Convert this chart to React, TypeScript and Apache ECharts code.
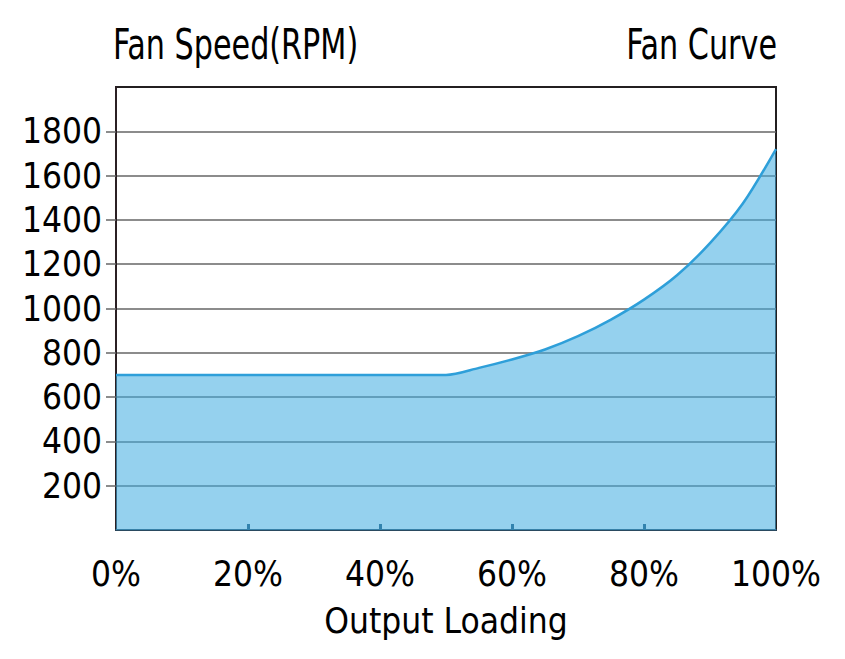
import React, { useEffect, useRef } from "react";
import * as echarts from "echarts";

const loadingPct = [0, 10, 20, 30, 40, 45, 50, 55, 60, 65, 70, 75, 80, 85, 90, 95, 100];
const fanRpm = [700, 700, 700, 700, 700, 700, 700, 732, 770, 815, 875, 950, 1040, 1150, 1295, 1475, 1720];
const yTicks = [200, 400, 600, 800, 1000, 1200, 1400, 1600, 1800];
const xTicks = [0, 20, 40, 60, 80, 100];
const xInnerTicks = [20, 40, 60, 80];

const FONT = "'DejaVu Sans Condensed', 'DejaVu Sans', sans-serif";

export default function App() {
  const ref = useRef<HTMLDivElement>(null);
  useEffect(() => {
    if (!ref.current) return;
    const chart = echarts.init(ref.current, null, { renderer: "svg" });
    chart.setOption({
      animation: false,
      backgroundColor: "#ffffff",
      grid: {
        left: 116,
        right: 69,
        top: 87,
        bottom: 129,
        show: true,
        borderColor: "#231f20",
        borderWidth: 2,
        backgroundColor: "transparent",
      },
      graphic: [
        {
          type: "text",
          x: 113,
          y: 45,
          scaleX: 0.8,
          style: {
            text: "Fan Speed(RPM)",
            fontFamily: FONT,
            fontSize: 42,
            fill: "#000",
            align: "left",
            verticalAlign: "middle",
          },
        },
        {
          type: "text",
          x: 777,
          y: 45,
          scaleX: 0.8,
          style: {
            text: "Fan Curve",
            fontFamily: FONT,
            fontSize: 42,
            fill: "#000",
            align: "right",
            verticalAlign: "middle",
          },
        },
      ],
      xAxis: {
        type: "value",
        min: 0,
        max: 100,
        interval: 20,
        name: "Output Loading",
        nameLocation: "middle",
        nameGap: 73,
        nameTextStyle: { fontFamily: FONT, fontSize: 35, color: "#000" },
        axisLine: { show: true, lineStyle: { color: "#2a4a60", width: 2 } },
        axisTick: {
          show: true,
          inside: true,
          length: 6,
          customValues: xInnerTicks,
          lineStyle: { color: "#1f4e6e", width: 3 },
        },
        axisLabel: {
          customValues: xTicks,
          formatter: "{value}%",
          fontFamily: FONT,
          fontSize: 35,
          color: "#000",
          margin: 26,
        },
        splitLine: { show: false },
      },
      yAxis: {
        type: "value",
        min: 0,
        max: 2000,
        interval: 200,
        axisLine: { show: true, lineStyle: { color: "#2b2024", width: 2 } },
        axisTick: {
          show: true,
          length: 10,
          customValues: yTicks,
          lineStyle: { color: "#666666", width: 1.5 },
        },
        axisLabel: {
          customValues: yTicks,
          formatter: (v: number) => String(v),
          fontFamily: FONT,
          fontSize: 35,
          color: "#000",
          margin: 14,
        },
        splitLine: { show: true, lineStyle: { color: "#666666", width: 1.5 } },
      },
      series: [
        {
          type: "line",
          data: loadingPct.map((x, i) => [x, fanRpm[i]]),
          smooth: 0.3,
          showSymbol: false,
          lineStyle: { color: "#2e9fd9", width: 2.5 },
          areaStyle: { color: "rgb(66,173,225)", opacity: 0.56 },
        },
      ],
    });
    return () => chart.dispose();
  }, []);
  return <div ref={ref} style={{ width: 845, height: 659, position: "absolute", left: 0, top: 0 }} />;
}
